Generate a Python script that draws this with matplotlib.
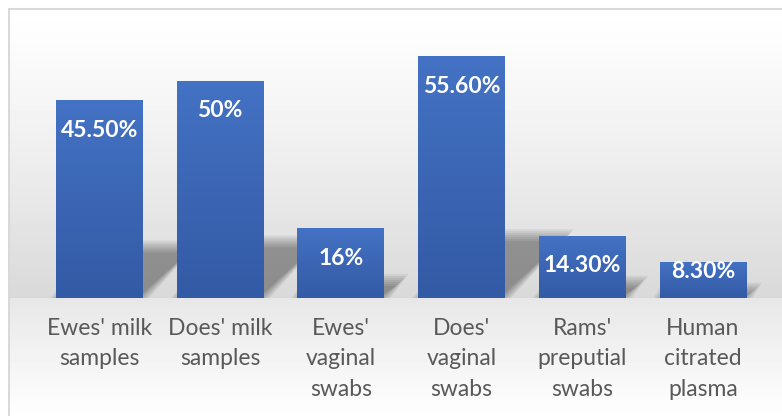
import matplotlib.pyplot as plt
import matplotlib.patches as mpatches
from matplotlib.colors import LinearSegmentedColormap
import numpy as np

plt.rcParams['font.family'] = ['Lato', 'DejaVu Sans']

categories = ["Ewes' milk\nsamples", "Does' milk\nsamples", "Ewes'\nvaginal\nswabs",
              "Does'\nvaginal\nswabs", "Rams'\npreputial\nswabs", "Human\ncitrated\nplasma"]
values = [45.5, 50.0, 16.0, 55.6, 14.3, 8.3]
value_labels = ['45.50%', '50%', '16%', '55.60%', '14.30%', '8.30%']

W, H = 782, 416
BASE = 298          # baseline, pixels from top
PX_Y = 4.35         # pixels per percent
PX_X = 120.7        # pixels per category
X0 = 99.5           # first category centre, pixels
BAR_W = 0.72

fig = plt.figure(figsize=(W / 100, H / 100), dpi=100)
fig.patch.set_facecolor('white')

# background gradient inside the chart frame
left_f = 8.5 / W
top_f = 1 - 8.5 / H
bg = fig.add_axes([left_f, 0, 1 - left_f, top_f])
rows = np.arange(H - 8)
split = BASE - 8.5
col = np.where(rows < split,
               1.0 - (1.0 - 0.85) * (rows / split) ** 1.2,
               0.905 + (1.0 - 0.905) * (rows - split) / (H - 8 - split))
img = np.repeat(col[:, None], 2, axis=1)
bg.imshow(img, cmap='gray', vmin=0, vmax=1, aspect='auto', extent=[0, 1, 0, 1])
bg.axis('off')

fig.patches.append(mpatches.Rectangle((left_f, -0.05), 1.1, top_f + 0.05,
                                      transform=fig.transFigure, fill=False,
                                      edgecolor='#d9d9d9', lw=1.5, zorder=5))

ax = fig.add_axes([0, 0, 1, 1])
ax.patch.set_alpha(0)
ax.axis('off')

x = np.arange(len(values))

# soft perspective shadows
for xi, v in zip(x, values):
    L, R = xi - BAR_W / 2, xi + BAR_W / 2
    hs = 0.26 * v
    sk = hs * PX_Y * 1.0 / PX_X
    for k in range(7):
        d = (k - 3) * 2.0
        dx, dy = d / PX_X, d / PX_Y
        poly = [(L - dx, 0), (R + dx, 0), (R + sk + dx, hs + dy), (L + sk - dx, hs + dy)]
        ax.add_patch(mpatches.Polygon(poly, closed=True, facecolor='black',
                                      edgecolor='none', alpha=0.06, zorder=1))

# bars with vertical gradient
bars = ax.bar(x, values, width=BAR_W, color='#4472c4', zorder=2)
grad = np.linspace(0, 1, 100)[:, None]
cmap = LinearSegmentedColormap.from_list('bar', ['#4472c4', '#335aa5'])
for b in bars:
    im = ax.imshow(grad, cmap=cmap, aspect='auto', zorder=3,
                   extent=[b.get_x(), b.get_x() + b.get_width(), 0, b.get_height()],
                   origin='upper')
    im.set_clip_path(b)

for xi, v, lab in zip(x, values, value_labels):
    off_px = min(30, v * PX_Y - 27)
    ax.annotate(lab, (xi, v), xytext=(0, -off_px * 0.72), textcoords='offset points',
                ha='center', va='center', color='white', fontsize=16.5,
                fontweight='bold', zorder=4)

for xi, c in zip(x, categories):
    ax.annotate(c, (xi, 0), xytext=(0, -20 * 0.72), textcoords='offset points',
                ha='center', va='top', color='#595959', fontsize=16.5,
                linespacing=1.55, zorder=4)

ax.set_xlim(-X0 / PX_X, (W - X0) / PX_X)
ax.set_ylim(-(H - BASE) / PX_Y, BASE / PX_Y)

fig.savefig('out.png', dpi=100)
